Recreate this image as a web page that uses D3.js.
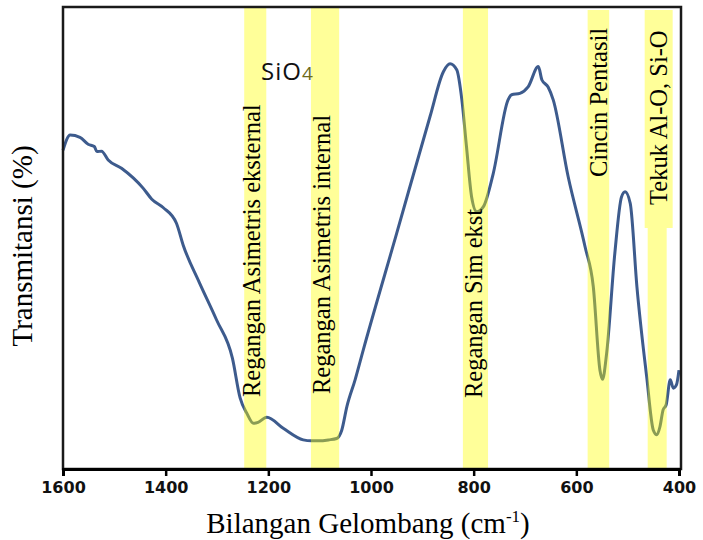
<!DOCTYPE html>
<html>
<head>
<meta charset="utf-8">
<script src="https://cdn.jsdelivr.net/npm/d3@7"></script>
<style>
    body { margin: 0; background: #fff; }
    svg { display: block; }
</style>
</head>
<body>
<div class="data_figure"></div>
<script>
// FTIR spectrum (transmittance in arbitrary 0-100 units)
const wavenumbers = [1600, 1586, 1567, 1551, 1539, 1534, 1525, 1512, 1486, 1444, 1427, 1405, 1379, 1366,
    1335, 1301, 1270, 1255, 1242, 1229, 1220, 1203, 1171, 1132, 1116, 1099, 1083, 1067, 1057, 1047, 1031, 1015,
    950, 885, 859, 846, 833, 823, 814, 804, 794, 781, 762, 733, 726, 710, 694, 674, 667, 655, 645,
    616, 583, 567, 554, 549, 541, 525, 512, 505, 495, 482, 463, 450, 443, 437, 431, 425, 417, 411, 405, 400];
const transmittance = [69.0, 72.3, 71.8, 70.3, 69.8, 68.7, 68.8, 66.9, 65.1, 60.8, 58.4, 56.6, 53.2, 48.5,
    40.5, 32.3, 24.0, 15.4, 12.1, 9.9, 10.1, 11.2, 8.8, 6.3, 6.1, 6.1, 6.3, 6.6, 8.4, 13.5, 19.3, 25.8,
    51.0, 76.3, 86.0, 87.7, 86.4, 79.9, 69.8, 58.9, 55.7, 56.8, 63.9, 79.9, 81.0, 81.3, 82.7, 87.1, 84.2, 82.7, 79.9,
    63.3, 48.1, 39.5, 21.4, 19.4, 25.0, 46.7, 58.9, 60.0, 57.5, 39.5, 20.0, 8.4, 7.4, 9.2, 12.8, 13.9, 19.3, 17.5, 18.2, 21.4];

// highlighted absorption bands
const bandNames = ["Regangan Asimetris eksternal", "Regangan Asimetris internal", "Regangan Sim ekst",
    "Cincin Pentasil", "Tekuk Al-O, Si-O"];
const bandFrom = [1247, 1117, 821, 578, 461];
const bandTo = [1204, 1062, 772, 536, 424];

const xTicks = [1600, 1400, 1200, 1000, 800, 600, 400];

const width = 703;
const height = 540;
const margin = { top: 7, bottom: 71, left: 63, right: 24 };

const lineColor = "#3d5b8d";
const bandColor = "#ffff00";

// label layout: shift of text baseline from band centre, bottom end of text, top of band
const labelDx = [5, 5, 7, 8.5, 9.5];
const labelBottom = [397, 394, 398, 177, 205];
const bandTop = [7, 7, 7, 10, 228];

function draw() {
    const points = wavenumbers.map((w, i) => ({ w: w, t: transmittance[i] }));

    const xScale = d3.scaleLinear()
        .domain([1600, 400])
        .range([margin.left, width - margin.right]);

    const yScale = d3.scaleLinear()
        .domain([0, 100])
        .range([height - margin.bottom, margin.top]);

    const svg = d3.select(".data_figure")
        .append("svg")
        .attr("width", width)
        .attr("height", height);

    const line = d3.line()
        .x((d) => xScale(d.w))
        .y((d) => yScale(d.t))
        .curve(d3.curveMonotoneX);

    svg.append("path")
        .datum(points)
        .attr("d", line)
        .attr("fill", "none")
        .attr("stroke", lineColor)
        .attr("stroke-width", 3)
        .attr("stroke-linejoin", "round");

    const bands = bandNames.map((name, i) => ({ name: name, from: bandFrom[i], to: bandTo[i], i: i }));

    // yellow bands sit on top of the curve (curve turns olive under them)
    svg.selectAll(".band")
        .data(bands)
        .enter()
        .append("rect")
        .attr("class", "band")
        .attr("x", (d) => xScale(d.from))
        .attr("y", (d) => bandTop[d.i])
        .attr("width", (d) => xScale(d.to) - xScale(d.from))
        .attr("height", (d) => yScale(0) - bandTop[d.i])
        .attr("fill", bandColor)
        .attr("fill-opacity", 0.4);

    // wider box behind the last label, above its band
    const last = bands[4];
    svg.append("rect")
        .attr("x", xScale(last.from) - 3)
        .attr("y", 10)
        .attr("width", xScale(last.to) - xScale(last.from) + 9)
        .attr("height", bandTop[4] - 10)
        .attr("fill", bandColor)
        .attr("fill-opacity", 0.4);

    svg.selectAll(".bandLabel")
        .data(bands)
        .enter()
        .append("text")
        .attr("class", "bandLabel")
        .attr("transform", (d) => "translate(" + ((xScale(d.from) + xScale(d.to)) / 2 + labelDx[d.i]) + ", " + labelBottom[d.i] + ") rotate(-90)")
        .attr("text-anchor", "start")
        .style("font-family", "'Liberation Serif', 'Times New Roman', serif")
        .style("font-size", "24.5px")
        .attr("fill", "#000")
        .text((d) => d.name);

    // frame
    svg.append("rect")
        .attr("x", margin.left)
        .attr("y", margin.top)
        .attr("width", xScale(400) + 2 - margin.left)
        .attr("height", yScale(0) - margin.top)
        .attr("fill", "none")
        .attr("stroke", "#1a1a1a")
        .attr("stroke-width", 2.5);

    const xAxis = svg.append("g")
        .attr("transform", "translate(0, " + yScale(0) + ")")
        .call(d3.axisBottom(xScale).tickValues(xTicks).tickSize(7).tickPadding(6).tickFormat(d3.format("d")));
    xAxis.select(".domain").attr("stroke", "#000").attr("stroke-width", 3);
    xAxis.selectAll(".tick line").attr("stroke", "#000").attr("stroke-width", 2.5);
    xAxis.selectAll(".tick text")
        .style("font-family", "'DejaVu Sans', sans-serif")
        .style("font-weight", "bold")
        .style("font-size", "16px")
        .attr("fill", "#111");

    // SiO4 note
    const sio = svg.append("text")
        .attr("x", 261)
        .attr("y", 80)
        .style("font-family", "'Open Sans', sans-serif")
        .style("font-size", "24px")
        .style("letter-spacing", "1px")
        .attr("fill", "#111");
    sio.append("tspan").text("SiO");
    sio.append("tspan").attr("fill", "#6e6a1c").style("font-size", "19px").style("letter-spacing", "0px").text("4");

    svg.append("text")
        .text("Transmitansi (%)")
        .attr("transform", "translate(32, 246) rotate(-90)")
        .attr("text-anchor", "middle")
        .style("font-family", "'Liberation Serif', 'Times New Roman', serif")
        .style("font-size", "29px")
        .attr("fill", "#000");

    const xTitle = svg.append("text")
        .attr("x", 368)
        .attr("y", 533)
        .attr("text-anchor", "middle")
        .style("font-family", "'Liberation Serif', 'Times New Roman', serif")
        .style("font-size", "29px")
        .attr("fill", "#000");
    xTitle.append("tspan").text("Bilangan Gelombang (cm");
    xTitle.append("tspan").attr("dy", -11).style("font-size", "17px").text("-1");
    xTitle.append("tspan").attr("dy", 11).text(")");
}

draw();
</script>
</body>
</html>
